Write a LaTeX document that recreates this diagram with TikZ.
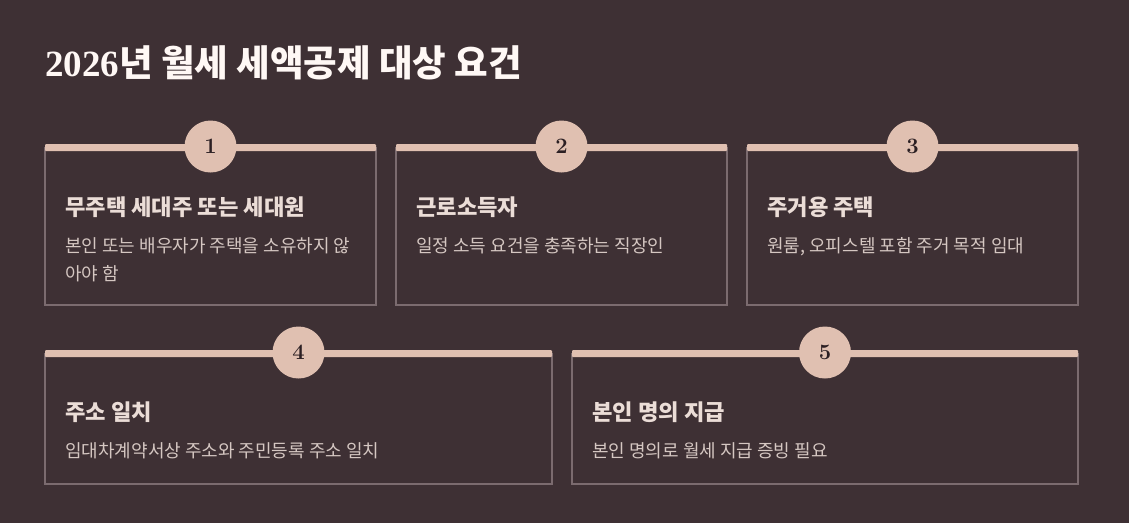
\documentclass[tikz,border=0pt]{standalone}
\usepackage{fontspec}
\newfontfamily\cjk{Noto Sans CJK KR}
\newfontfamily\digitfont{Liberation Serif}
\definecolor{bg}{HTML}{3E3034}
\definecolor{accent}{HTML}{E0C0B1}
\definecolor{border}{HTML}{7B6B6F}
\definecolor{titlec}{HTML}{FFF8F5}
\definecolor{headc}{HTML}{EBDDD7}
\definecolor{bodyc}{HTML}{D5C7C2}
\definecolor{numc}{HTML}{2B1F23}
\tikzset{
  cardbox/.style={draw=border, line width=1.4pt},
  topbar/.style={fill=accent, rounded corners=1pt},
  numcircle/.style={circle, fill=accent, minimum size=52pt, inner sep=0pt, text=numc, font=\bfseries\fontsize{22}{22}\selectfont},
  head/.style={anchor=base west, text=headc, font=\cjk\bfseries\fontsize{22.2}{22.2}\selectfont, inner sep=0pt},
  body/.style={anchor=base west, text=bodyc, font=\cjk\fontsize{18}{18}\selectfont, inner sep=0pt},
  titletext/.style={anchor=base west, text=titlec, inner sep=0pt},
}
\begin{document}
\begin{tikzpicture}[x=1pt,y=-1pt]
\fill[bg] (0,0) rectangle (1129,523);
\useasboundingbox (0,0) rectangle (1129,523);

\node[titletext] (title) at (45,76.5) {{\digitfont\bfseries\fontsize{37}{37}\selectfont 2026}{\cjk\bfseries\fontsize{36.5}{36.5}\selectfont 년 월세 세액공제 대상 요건}};

% row 1 cards
\foreach \xa/\xb/\n in {45/376/1, 396/727/2, 747/1078/3}{
  \draw[cardbox] (\xa,148) rectangle (\xb,305);
  \fill[topbar] (\xa,144) rectangle (\xb,151);
  \node[numcircle] (n\n) at ({(\xa+\xb)/2},146.5) {\n};
}
% row 2 cards
\foreach \xa/\xb/\n in {45/552/4, 572/1078/5}{
  \draw[cardbox] (\xa,354) rectangle (\xb,484);
  \fill[topbar] (\xa,350) rectangle (\xb,357);
  \node[numcircle] (n\n) at ({(\xa+\xb)/2},352.5) {\n};
}

\node[head] (h1) at (65,215.5) {무주택 세대주 또는 세대원};
\node[body] (b1) at (65,252) {본인 또는 배우자가 주택을 소유하지 않};
\node[body] (b1b) at (65,280) {아야 함};

\node[head] (h2) at (416,215.5) {근로소득자};
\node[body] (b2) at (416,252) {일정 소득 요건을 충족하는 직장인};

\node[head] (h3) at (767,215.5) {주거용 주택};
\node[body] (b3) at (767,252) {원룸, 오피스텔 포함 주거 목적 임대};

\node[head] (h4) at (65,420.5) {주소 일치};
\node[body] (b4) at (65,457) {임대차계약서상 주소와 주민등록 주소 일치};

\node[head] (h5) at (592,420.5) {본인 명의 지급};
\node[body] (b5) at (592,457) {본인 명의로 월세 지급 증빙 필요};
\end{tikzpicture}
\end{document}
